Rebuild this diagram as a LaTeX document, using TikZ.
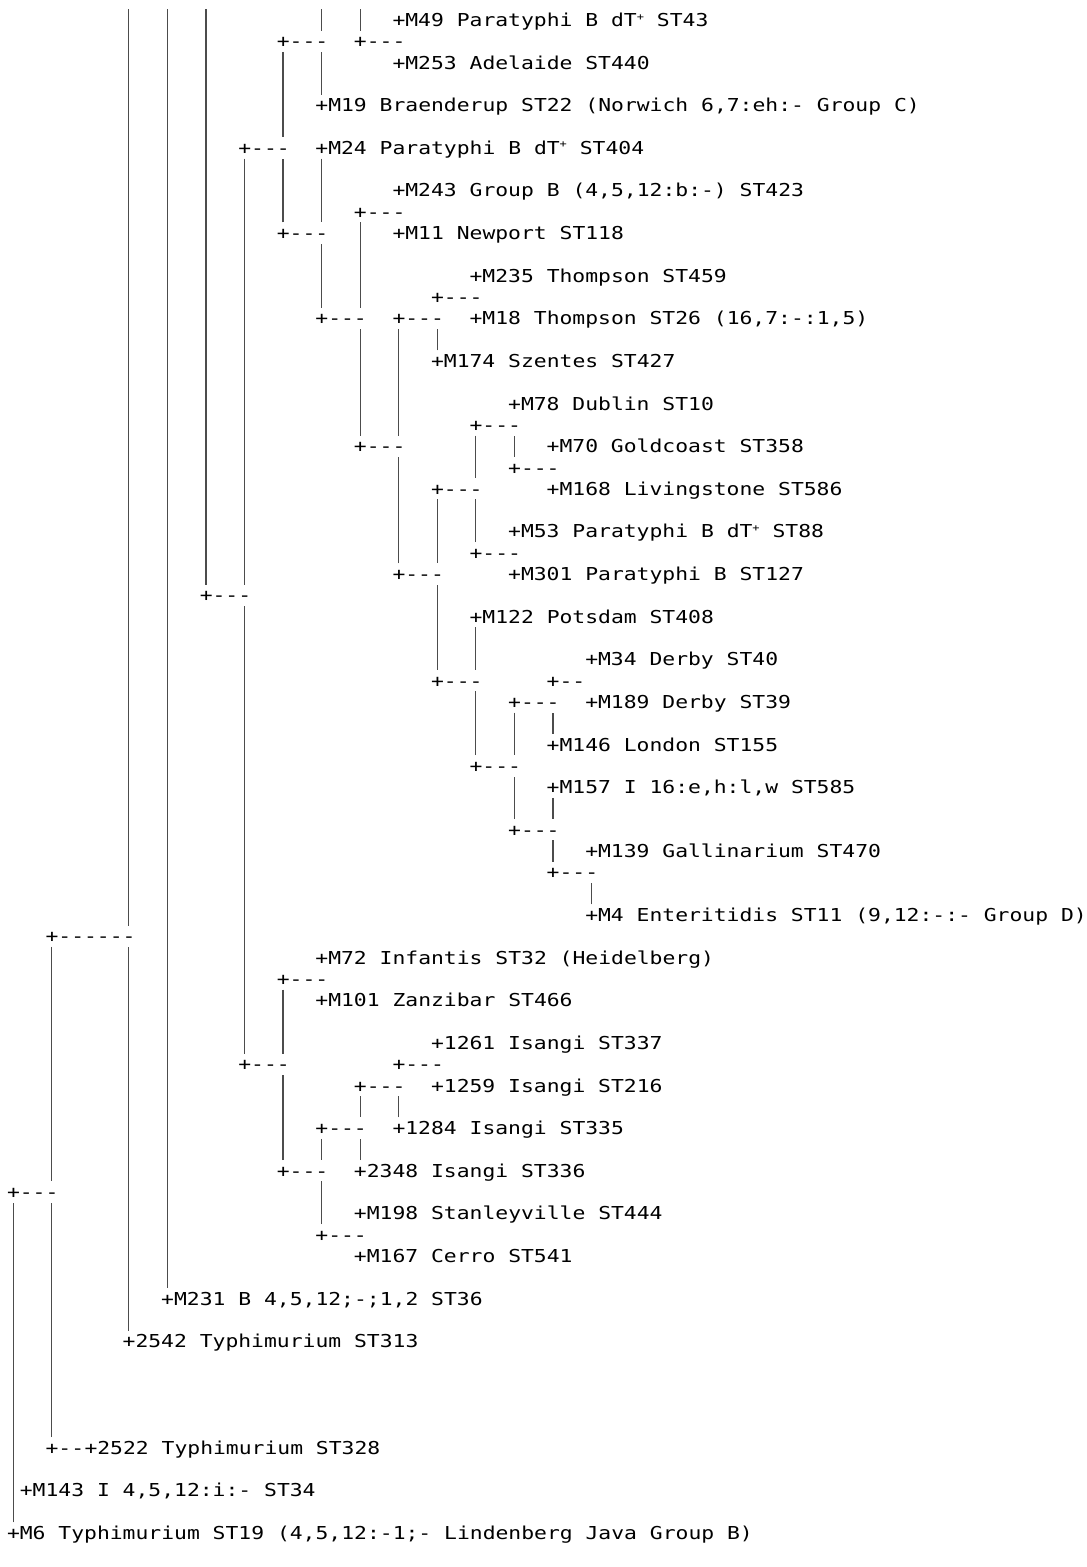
\documentclass[tikz,border=0pt]{standalone}
\usepackage{fontspec}
\setmonofont{DejaVu Sans Mono}[FakeStretch=1.2]
\usetikzlibrary{positioning}
\newcommand\treefont{\ttfamily\fontsize{17.8}{21.3}\selectfont}
\newcommand\dtplus{{\fontsize{10}{10}\selectfont\raisebox{6.5pt}{+}}}
\tikzset{
  lbl/.style={anchor=west, inner sep=0pt, text height=13pt, text depth=0pt, font=\treefont},
  fork/.style={lbl},
  bar/.style={line width=1.2pt, black!70, shorten <=10.65pt, shorten >=10.65pt},
  topbar/.style={line width=1.2pt, black!70, shorten >=10.65pt},
}
% vertical bar from a fork down/up to the "+" of a child
\newcommand\link[2]{\draw[bar] ([xshift=6.425pt]#2.west) coordinate (b) -- (b |- #1.west);}
\begin{document}
\begin{tikzpicture}[x=12.85pt, y=-21.31pt]
\useasboundingbox (-6.8pt,20pt) rectangle (1080.2pt,-1547pt);
% leaves
\node[lbl] (m49) at (30,0) {+M49 Paratyphi B dT\dtplus{} ST43};
\node[lbl] (m253) at (30,2) {+M253 Adelaide ST440};
\node[lbl] (m19) at (24,4) {+M19 Braenderup ST22 (Norwich 6,7:eh:- Group C)};
\node[lbl] (m24) at (24,6) {+M24 Paratyphi B dT\dtplus{} ST404};
\node[lbl] (m243) at (30,8) {+M243 Group B (4,5,12:b:-) ST423};
\node[lbl] (m11) at (30,10) {+M11 Newport ST118};
\node[lbl] (m235) at (36,12) {+M235 Thompson ST459};
\node[lbl] (m18) at (36,14) {+M18 Thompson ST26 (16,7:-:1,5)};
\node[lbl] (m174) at (33,16) {+M174 Szentes ST427};
\node[lbl] (m78) at (39,18) {+M78 Dublin ST10};
\node[lbl] (m70) at (42,20) {+M70 Goldcoast ST358};
\node[lbl] (m168) at (42,22) {+M168 Livingstone ST586};
\node[lbl] (m53) at (39,24) {+M53 Paratyphi B dT\dtplus{} ST88};
\node[lbl] (m301) at (39,26) {+M301 Paratyphi B ST127};
\node[lbl] (m122) at (36,28) {+M122 Potsdam ST408};
\node[lbl] (m34) at (45,30) {+M34 Derby ST40};
\node[lbl] (m189) at (45,32) {+M189 Derby ST39};
\node[lbl] (m146) at (42,34) {+M146 London ST155};
\node[lbl] (m157) at (42,36) {+M157 I 16:e,h:l,w ST585};
\node[lbl] (m139) at (45,39) {+M139 Gallinarium ST470};
\node[lbl] (m4) at (45,42) {+M4 Enteritidis ST11 (9,12:-:- Group D)};
\node[lbl] (m72) at (24,44) {+M72 Infantis ST32 (Heidelberg)};
\node[lbl] (m101) at (24,46) {+M101 Zanzibar ST466};
\node[lbl] (i1261) at (33,48) {+1261 Isangi ST337};
\node[lbl] (i1259) at (33,50) {+1259 Isangi ST216};
\node[lbl] (i1284) at (30,52) {+1284 Isangi ST335};
\node[lbl] (i2348) at (27,54) {+2348 Isangi ST336};
\node[lbl] (m198) at (27,56) {+M198 Stanleyville ST444};
\node[lbl] (m167) at (27,58) {+M167 Cerro ST541};
\node[lbl] (m231) at (12,60) {+M231 B 4,5,12;-;1,2 ST36};
\node[lbl] (t2542) at (9,62) {+2542 Typhimurium ST313};
\node[lbl] (m143) at (1,69) {+M143 I 4,5,12:i:- ST34};
\node[lbl] (m6) at (0,71) {+M6 Typhimurium ST19 (4,5,12:-1;- Lindenberg Java Group B)};
% forks
\node[fork] (j1c21) at (21,1) {+---};
\node[fork] (j1c27) at (27,1) {+---};
\node[fork] (j6c18) at (18,6) {+---};
\node[fork] (j9c27) at (27,9) {+---};
\node[fork] (j10c21) at (21,10) {+---};
\node[fork] (j13c33) at (33,13) {+---};
\node[fork] (j14c24) at (24,14) {+---};
\node[fork] (j14c30) at (30,14) {+---};
\node[fork] (j19c36) at (36,19) {+---};
\node[fork] (j20c27) at (27,20) {+---};
\node[fork] (j21c39) at (39,21) {+---};
\node[fork] (j22c33) at (33,22) {+---};
\node[fork] (j25c36) at (36,25) {+---};
\node[fork] (j26c30) at (30,26) {+---};
\node[fork] (j27c15) at (15,27) {+---};
\node[fork] (j31c33) at (33,31) {+---};
\node[fork] (j31c42) at (42,31) {+--};
\node[fork] (j32c39) at (39,32) {+---};
\node[fork] (j35c36) at (36,35) {+---};
\node[fork] (j38c39) at (39,38) {+---};
\node[fork] (j40c42) at (42,40) {+---};
\node[fork] (j43c3) at (3,43) {+------};
\node[fork] (j45c21) at (21,45) {+---};
\node[fork] (j49c18) at (18,49) {+---};
\node[fork] (j49c30) at (30,49) {+---};
\node[fork] (j50c27) at (27,50) {+---};
\node[fork] (j52c24) at (24,52) {+---};
\node[fork] (j54c21) at (21,54) {+---};
\node[fork] (j55c0) at (0,55) {+---};
\node[fork] (j57c24) at (24,57) {+---};
\node[fork] (j67c3) at (3,67) {+--};
\node[lbl, right=0pt of j67c3] (t2522) {+2522 Typhimurium ST328};
% bars coming in from above the frame
\coordinate (top9) at (9.5,-0.5);
\coordinate (top12) at (12.5,-0.5);
\coordinate (top15) at (15.5,-0.5);
\coordinate (top24) at (24.5,-0.5);
\coordinate (top27) at (27.5,-0.5);
\draw[topbar] (top9) -- (top9 |- j43c3.west);
\draw[topbar] (top12) -- (top12 |- m231.west);
\draw[topbar] (top15) -- (top15 |- j27c15.west);
\draw[topbar] (top24) -- (top24 |- j1c21.west);
\draw[topbar] (top27) -- (top27 |- j1c27.west);
% bars between forks and children
\link{j1c21}{m19}
\link{j6c18}{j1c21}
\link{j6c18}{j10c21}
\link{j10c21}{m24}
\link{j10c21}{j14c24}
\link{j14c24}{j9c27}
\link{j14c24}{j20c27}
\link{j14c30}{m174}
\link{j20c27}{j14c30}
\link{j20c27}{j26c30}
\link{j19c36}{j21c39}
\link{j22c33}{j19c36}
\link{j22c33}{j25c36}
\link{j26c30}{j22c33}
\link{j26c30}{j31c33}
\link{j27c15}{j6c18}
\link{j27c15}{j49c18}
\link{j31c33}{m122}
\link{j31c33}{j35c36}
\link{j32c39}{m146}
\link{j35c36}{j32c39}
\link{j35c36}{j38c39}
\link{j38c39}{m157}
\link{j38c39}{j40c42}
\link{j40c42}{m4}
\link{j43c3}{t2542}
\link{j49c18}{j45c21}
\link{j49c18}{j54c21}
\link{j50c27}{i1284}
\link{j52c24}{j50c27}
\link{j52c24}{i2348}
\link{j54c21}{j52c24}
\link{j54c21}{j57c24}
\link{j55c0}{j43c3}
\link{j55c0}{j67c3}
\link{j55c0}{m6}
\end{tikzpicture}
\end{document}
